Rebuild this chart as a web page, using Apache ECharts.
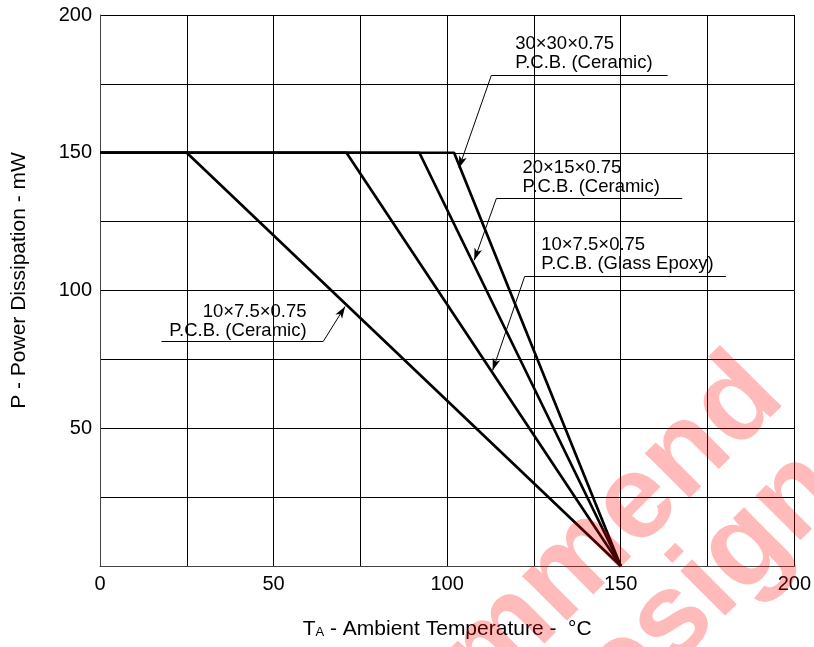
<!DOCTYPE html>
<html>
<head>
<meta charset="utf-8">
<script src="https://cdn.jsdelivr.net/npm/echarts@6/dist/echarts.min.js"></script>
<style>
html,body{margin:0;padding:0;background:#fff;}
#c{width:814px;height:647px;}
</style>
</head>
<body>
<div id="c"></div>
<script>
// ---- data ----
const xTicks = [0, 50, 100, 150, 200];
const yTicks = [50, 100, 150, 200];
const pcbCeramic10 = [[0, 150], [25, 150], [150, 0]];
const pcbGlassEpoxy10 = [[0, 150], [71, 150], [150, 0]];
const pcbCeramic20 = [[0, 150], [92, 150], [150, 0]];
const pcbCeramic30 = [[0, 150], [102, 150], [150, 0]];

// annotation texts and their anchor points (data units)
const noteLabels = [
  ['30×30×0.75', 'P.C.B. (Ceramic)'],
  ['20×15×0.75', 'P.C.B. (Ceramic)'],
  ['10×7.5×0.75', 'P.C.B. (Glass Epoxy)'],
  ['10×7.5×0.75', 'P.C.B. (Ceramic)']
];
const noteTextAt = [[119.6, 189.5], [121.7, 144.5], [127.1, 116.5], [59.5, 92.3]];
const noteAlign = ['left', 'left', 'left', 'right'];
const noteUnderlineFrom = [[163.5, 178.0], [167.7, 133.5], [180.3, 105.0], [17.7, 81.5]];
const noteUnderlineTo = [[112.7, 178.0], [114.2, 133.5], [122.3, 105.0], [64.3, 81.5]];
const noteTip = [[103.4, 144.5], [107.8, 111.0], [113.1, 71.0], [70.6, 94.2]];

// watermark lines
const watermarkLines = ['Not Recommend', 'for New Design'];

const FONT = '"Liberation Sans", Arial, sans-serif';

const chart = echarts.init(document.getElementById('c'), null, {renderer: 'canvas'});

function curve(data) {
  return {
    type: 'line', data: data, symbol: 'none', silent: true,
    lineStyle: {color: '#000', width: 2.7}, z: 5
  };
}

const leaderLines = [];
for (let i = 0; i < noteLabels.length; i++) {
  leaderLines.push([{coord: noteUnderlineFrom[i], symbol: 'none'}, {coord: noteUnderlineTo[i], symbol: 'none'}]);
  leaderLines.push([{coord: noteUnderlineTo[i], symbol: 'none'}, {coord: noteTip[i], symbol: 'arrow'}]);
}

const option = {
  animation: false,
  backgroundColor: '#fff',
  grid: {left: 100, right: 19, top: 15, bottom: 81, show: false},
  xAxis: {
    type: 'value', min: 0, max: 200, interval: 25,
    name: '{t|T}{s|A}{t| - Ambient Temperature -  °C}',
    nameLocation: 'middle', nameGap: 53,
    nameTextStyle: {rich: {t: {fontFamily: FONT, fontSize: 21, color: '#000'}, s: {fontFamily: FONT, fontSize: 13, color: '#000', padding: [6, 0, 0, 0]}}},
    axisLine: {show: true, lineStyle: {color: '#444', width: 1}},
    axisTick: {show: false},
    axisLabel: {
      margin: 8, color: '#000', fontFamily: FONT, fontSize: 20,
      formatter: v => (xTicks.indexOf(v) >= 0 ? String(v) : '')
    },
    splitLine: {show: true, lineStyle: {color: '#000', width: 1}}
  },
  yAxis: {
    type: 'value', min: 0, max: 200, interval: 25,
    name: 'P - Power Dissipation - mW',
    nameLocation: 'middle', nameGap: 70, nameRotate: 90,
    nameTextStyle: {fontFamily: FONT, fontSize: 21, color: '#000', padding: [0, 0, 0, 20]},
    axisLine: {show: true, lineStyle: {color: '#444', width: 1}},
    axisTick: {show: false},
    axisLabel: {
      margin: 8, color: '#000', fontFamily: FONT, fontSize: 20,
      formatter: v => (yTicks.indexOf(v) >= 0 ? String(v) : '')
    },
    splitLine: {show: true, lineStyle: {color: '#000', width: 1}}
  },
  series: [
    curve(pcbCeramic10),
    curve(pcbGlassEpoxy10),
    curve(pcbCeramic20),
    curve(pcbCeramic30),
    {
      type: 'line', data: [], silent: true,
      markLine: {
        silent: true, animation: false,
        symbolSize: [6, 12],
        label: {show: false},
        lineStyle: {color: '#000', width: 1, type: 'solid'},
        emphasis: {disabled: true},
        data: leaderLines
      }
    }
  ]
};
chart.setOption(option);

// annotation texts, placed through the chart's own coordinate conversion
const graphics = [];
for (let i = 0; i < noteLabels.length; i++) {
  const p = chart.convertToPixel({gridIndex: 0}, noteTextAt[i]);
  graphics.push({
    type: 'text', x: p[0], y: p[1] + 9.5, z: 20, silent: true,
    style: {
      text: noteLabels[i].join('\n'),
      font: '18.5px ' + FONT, fill: '#000',
      align: noteAlign[i], verticalAlign: 'middle', lineHeight: 19.5
    }
  });
}

// watermark
const wmPos = [[764, 377], [823, 471]];
for (let i = 0; i < watermarkLines.length; i++) {
  graphics.push({
    type: 'text', x: wmPos[i][0], y: wmPos[i][1], rotation: Math.PI / 4, z: 100, silent: true,
    style: {text: watermarkLines[i], font: 'bold 120px ' + FONT, fill: 'rgba(255,0,0,0.27)', align: 'right', verticalAlign: 'middle'}
  });
}
chart.setOption({graphic: graphics});
</script>
</body>
</html>
